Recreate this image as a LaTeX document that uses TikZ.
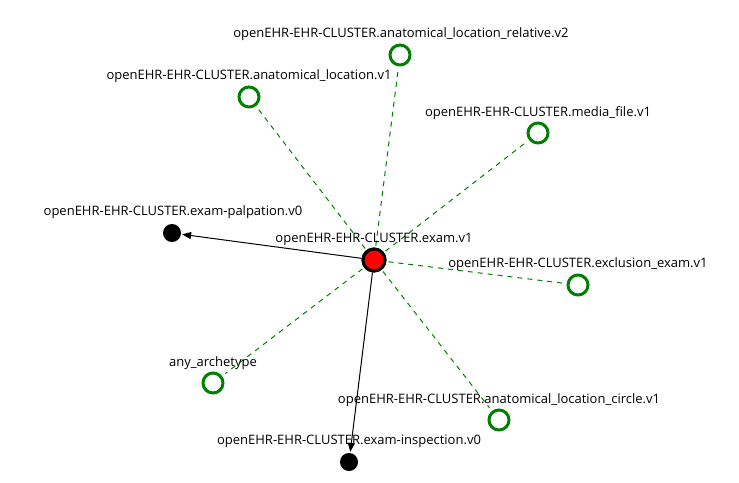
\documentclass[tikz,border=0pt]{standalone}
\usepackage{fontspec}
\setmainfont{Open Sans}
\usetikzlibrary{arrows.meta}
\definecolor{dgreen}{RGB}{0,128,0}
\begin{document}
\begin{tikzpicture}[x=1pt,y=-1pt,
  lbl/.style={font=\fontsize{13}{15}\selectfont, text=black, inner sep=0pt, anchor=center, yshift=-1.5pt},
  opt/.style={circle, draw=dgreen, line width=3pt, fill=white, minimum size=20pt, inner sep=0pt},
  blk/.style={circle, fill=black, minimum size=18pt, inner sep=0pt},
  ctr/.style={circle, draw=black, line width=3pt, fill=red, minimum size=22pt, inner sep=0pt},
  dlink/.style={draw=dgreen, dash pattern=on 5pt off 5pt, line width=1pt, shorten >=4pt, shorten <=2pt},
  slink/.style={draw=black, line width=1pt, -{Triangle[length=9pt,width=7pt]}, shorten >=1pt}]
\useasboundingbox (0,0) rectangle (739,482);
\node[ctr] (c) at (374,260) {};
\node[blk] (pal) at (172,233) {};
\node[blk] (ins) at (349,462) {};
\node[opt] (rel) at (400,55) {};
\node[opt] (loc) at (249,97) {};
\node[opt] (med) at (538,133) {};
\node[opt] (exc) at (578,285) {};
\node[opt] (cir) at (499,420) {};
\node[opt] (any) at (213,383) {};
\draw[dlink] (c) -- (rel);
\draw[dlink] (c) -- (loc);
\draw[dlink] (c) -- (med);
\draw[dlink] (c) -- (exc);
\draw[dlink] (c) -- (cir);
\draw[dlink] (c) -- (any);
\draw[slink] (c) -- (pal);
\draw[slink] (c) -- (ins);
\node[ctr] at (c) {};
\node[lbl] (lc) at (374,238) {openEHR-EHR-CLUSTER.exam.v1};
\node[lbl] (lpal) at (173,211) {openEHR-EHR-CLUSTER.exam-palpation.v0};
\node[lbl] (lins) at (349,440) {openEHR-EHR-CLUSTER.exam-inspection.v0};
\node[lbl] (lrel) at (401,33) {openEHR-EHR-CLUSTER.anatomical\_location\_relative.v2};
\node[lbl] (lloc) at (249,75) {openEHR-EHR-CLUSTER.anatomical\_location.v1};
\node[lbl] (lmed) at (538,112) {openEHR-EHR-CLUSTER.media\_file.v1};
\node[lbl] (lexc) at (578,263) {openEHR-EHR-CLUSTER.exclusion\_exam.v1};
\node[lbl] (lcir) at (499,399) {openEHR-EHR-CLUSTER.anatomical\_location\_circle.v1};
\node[lbl] (lany) at (213,362) {any\_archetype};
\end{tikzpicture}
\end{document}
